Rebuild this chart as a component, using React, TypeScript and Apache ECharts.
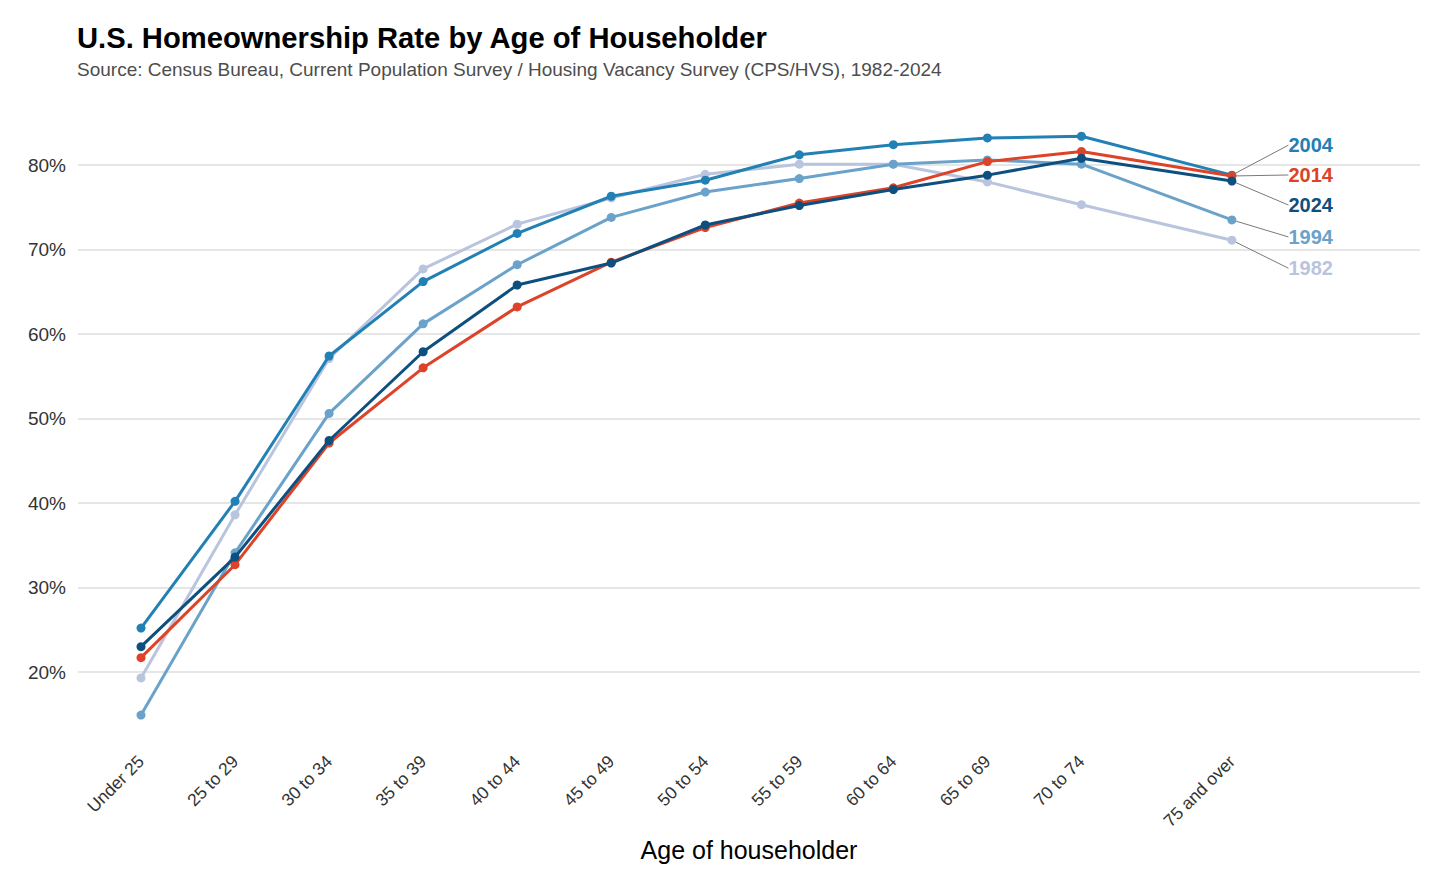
import React, { useEffect, useRef } from "react";
import * as echarts from "echarts";

const ageLabels = ["Under 25", "25 to 29", "30 to 34", "35 to 39", "40 to 44", "45 to 49", "50 to 54", "55 to 59", "60 to 64", "65 to 69", "70 to 74", "75 and over"];
const agePositions = [22, 27, 32, 37, 42, 47, 52, 57, 62, 67, 72, 80];
const yTicks = [20, 30, 40, 50, 60, 70, 80];

const years = ["1982", "1994", "2004", "2014", "2024"];
const rate1982 = [19.3, 38.6, 57.1, 67.7, 73.0, 76.1, 78.9, 80.1, 80.1, 78.0, 75.3, 71.1];
const rate1994 = [14.9, 34.1, 50.6, 61.2, 68.2, 73.8, 76.8, 78.4, 80.1, 80.6, 80.1, 73.5];
const rate2004 = [25.2, 40.2, 57.4, 66.2, 71.9, 76.3, 78.2, 81.2, 82.4, 83.2, 83.4, 78.8];
const rate2014 = [21.7, 32.7, 47.1, 56.0, 63.2, 68.5, 72.6, 75.5, 77.3, 80.4, 81.6, 78.7];
const rate2024 = [23.0, 33.6, 47.4, 57.9, 65.8, 68.4, 72.9, 75.2, 77.1, 78.8, 80.8, 78.1];
const seriesValues = [rate1982, rate1994, rate2004, rate2014, rate2024];

const colors = ["#b9c4de", "#6aa2c9", "#2180b4", "#dc4328", "#0d4f7e"];
const labelDy = [28, 17, -30, -1, 24];

const FONT = "'Liberation Sans', Arial, Helvetica, sans-serif";

export default function App() {
  const ref = useRef<HTMLDivElement>(null);
  useEffect(() => {
    const chart = echarts.init(ref.current!, null, { renderer: "svg" });
    const series = years.map((yr, i) => ({
      name: yr,
      type: "line",
      z: 2 + i,
      data: agePositions.map((x, j) => {
        const item: any = { value: [x, seriesValues[i][j]] };
        if (j === agePositions.length - 1) {
          item.label = {
            show: true,
            position: "right",
            distance: 5,
            formatter: yr,
            color: colors[i],
            fontFamily: FONT,
            fontWeight: "bold",
            fontSize: 20,
          };
        }
        return item;
      }),
      symbol: "circle",
      symbolSize: 9,
      lineStyle: { color: colors[i], width: 3 },
      itemStyle: { color: colors[i] },
      labelLayout: { dx: 47, dy: labelDy[i] },
      labelLine: { show: true, lineStyle: { color: "#7a7a7a", width: 1 } },
      emphasis: { disabled: true },
    }));
    chart.setOption({
      animation: false,
      title: {
        text: "U.S. Homeownership Rate by Age of Householder",
        subtext: "Source: Census Bureau, Current Population Survey / Housing Vacancy Survey (CPS/HVS), 1982-2024",
        left: 72,
        top: 18,
        itemGap: 8,
        textStyle: { fontFamily: FONT, fontWeight: "bold", fontSize: 29.2, color: "#000" },
        subtextStyle: { fontFamily: FONT, fontSize: 19, color: "#4d4d4d" },
      },
      grid: { left: 78, right: 36, top: 114.3, bottom: 154.6, containLabel: false },
      xAxis: {
        type: "value",
        min: 18.65,
        max: 90,
        name: "Age of householder",
        nameLocation: "middle",
        nameGap: 101,
        nameTextStyle: { fontFamily: FONT, fontSize: 25, color: "#000" },
        axisLine: { show: false },
        axisTick: { show: false, customValues: agePositions },
        splitLine: { show: false },
        axisLabel: {
          customValues: agePositions,
          rotate: 45,
          margin: 23,
          fontFamily: FONT,
          fontSize: 17.5,
          color: "#333",
          formatter: (v: number) => {
            const k = agePositions.indexOf(Math.round(v));
            return k >= 0 ? ageLabels[k] : "";
          },
        },
      },
      yAxis: {
        type: "value",
        min: 12.5,
        max: 86,
        axisLine: { show: false },
        axisTick: { show: false, customValues: yTicks },
        splitLine: { show: true, lineStyle: { color: "#e6e6e6", width: 2 } },
        axisLabel: {
          customValues: yTicks,
          margin: 12,
          fontFamily: FONT,
          fontSize: 19,
          color: "#333",
          formatter: (v: number) => `${Math.round(v)}%`,
        },
      },
      series,
    });
    return () => chart.dispose();
  }, []);
  return (
    <div
      ref={ref}
      style={{ position: "fixed", left: 0, top: 0, width: 1456, height: 890, background: "#fff" }}
    />
  );
}
